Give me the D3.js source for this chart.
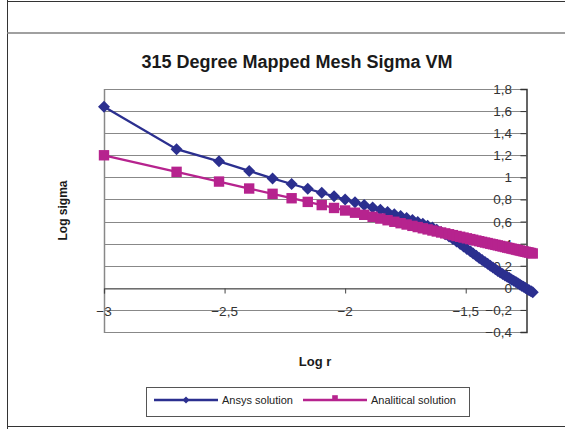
<!DOCTYPE html>
<html>
<head>
<meta charset="utf-8">
<script src="https://cdn.jsdelivr.net/npm/d3@7"></script>
<style>
  html, body { margin: 0; padding: 0; background: #fff; }
  svg { display: block; }
  text { font-family: "Liberation Sans", Arial, sans-serif; }
</style>
</head>
<body>
<svg id="chart" width="565" height="429"></svg>
<script>
// log r  (r = 0.001 ... 0.060)
const logR = [
  -3.000, -2.699, -2.523, -2.398, -2.301, -2.222, -2.155, -2.097, -2.046, -2.000,
  -1.959, -1.921, -1.886, -1.854, -1.824, -1.796, -1.770, -1.745, -1.721, -1.699,
  -1.678, -1.658, -1.638, -1.620, -1.602, -1.585, -1.569, -1.553, -1.538, -1.523,
  -1.509, -1.495, -1.481, -1.469, -1.456, -1.444, -1.432, -1.420, -1.409, -1.398,
  -1.387, -1.377, -1.367, -1.357, -1.347, -1.337, -1.328, -1.319, -1.310, -1.301,
  -1.292, -1.284, -1.276, -1.268, -1.260, -1.252, -1.244, -1.237, -1.229, -1.222
];

// FE result (log sigma)
const ansys = [
  1.640, 1.255, 1.145, 1.058, 0.990, 0.940, 0.897, 0.860, 0.828, 0.800,
  0.774, 0.750, 0.727, 0.706, 0.686, 0.667, 0.650, 0.632, 0.614, 0.597,
  0.580, 0.563, 0.545, 0.526, 0.506, 0.485, 0.464, 0.442, 0.419, 0.396,
  0.374, 0.352, 0.330, 0.310, 0.290, 0.271, 0.252, 0.234, 0.217, 0.200,
  0.184, 0.169, 0.153, 0.139, 0.126, 0.112, 0.100, 0.088, 0.076, 0.064,
  0.052, 0.041, 0.030, 0.019, 0.009, -0.002, -0.012, -0.021, -0.031, -0.040
];

// closed-form result (log sigma)
const analytical = [
  1.200, 1.050, 0.962, 0.899, 0.851, 0.811, 0.778, 0.749, 0.723, 0.700,
  0.680, 0.661, 0.643, 0.627, 0.612, 0.598, 0.585, 0.573, 0.561, 0.550,
  0.539, 0.529, 0.519, 0.510, 0.501, 0.493, 0.485, 0.477, 0.469, 0.462,
  0.455, 0.448, 0.441, 0.435, 0.428, 0.422, 0.416, 0.410, 0.405, 0.399,
  0.394, 0.389, 0.384, 0.379, 0.374, 0.369, 0.364, 0.360, 0.355, 0.351,
  0.346, 0.342, 0.338, 0.334, 0.330, 0.326, 0.322, 0.319, 0.315, 0.311
];

const xTicks = [-3, -2.5, -2, -1.5];
const yTicks = [-0.4, -0.2, 0, 0.2, 0.4, 0.6, 0.8, 1, 1.2, 1.4, 1.6, 1.8];

const seriesNames = ["Ansys solution", "Analitical solution"];
const seriesColors = ["#2b2f8f", "#b6238e"];

const svg = d3.select("#chart");

// outer frame
svg.append("line").attr("x1", 7.5).attr("x2", 7.5).attr("y1", 0).attr("y2", 429)
  .attr("stroke", "#333").attr("stroke-width", 1);
svg.append("line").attr("x1", 7).attr("x2", 565).attr("y1", 1.5).attr("y2", 1.5)
  .attr("stroke", "#333").attr("stroke-width", 1);
svg.append("line").attr("x1", 7).attr("x2", 565).attr("y1", 33).attr("y2", 33)
  .attr("stroke", "#808080").attr("stroke-width", 1.5);
svg.append("line").attr("x1", 7).attr("x2", 565).attr("y1", 426.5).attr("y2", 426.5)
  .attr("stroke", "#333").attr("stroke-width", 1.2);

// plot area
const plot = { left: 104, right: 526, top: 89, bottom: 332 };
const x = d3.scaleLinear().domain([-3, -1.25]).range([plot.left, plot.right]);
const y = d3.scaleLinear().domain([-0.4, 1.8]).range([plot.bottom, plot.top]);

// title
svg.append("text").attr("x", 297).attr("y", 68).attr("text-anchor", "middle")
  .attr("font-size", 18).attr("font-weight", "bold").attr("fill", "#1a1a1a")
  .text("315 Degree Mapped Mesh Sigma VM");

// horizontal gridlines
svg.append("g").selectAll("line").data(yTicks).join("line")
  .attr("x1", plot.left).attr("x2", plot.right)
  .attr("y1", d => Math.round(y(d)) + 0.5).attr("y2", d => Math.round(y(d)) + 0.5)
  .attr("stroke", "#888").attr("stroke-width", 1.2);

// plot area left border
svg.append("line").attr("x1", plot.left + 0.5).attr("x2", plot.left + 0.5)
  .attr("y1", plot.top).attr("y2", plot.bottom + 1)
  .attr("stroke", "#888").attr("stroke-width", 1.5);

// x axis (crosses at 0)
const xAxis = d3.axisBottom(x).tickValues(xTicks).tickSize(5).tickFormat("");
const gx = svg.append("g").attr("transform", `translate(0,${Math.round(y(0)) + 0.5})`).call(xAxis);
gx.select(".domain").attr("stroke", "#555").attr("stroke-width", 1.2);
gx.selectAll(".tick line").attr("stroke", "#444");

// x tick labels sit lower, on the -0.2 band
svg.append("g").selectAll("text").data(xTicks).join("text")
  .attr("x", d => x(d)).attr("y", y(-0.2) + 6)
  .attr("text-anchor", "middle").attr("font-size", 13.5).attr("fill", "#333")
  .text(d => d3.format("")(d).replace(".", ","));

// y axis on the right side, labels inside the plot
const yAxis = d3.axisLeft(y).tickValues(yTicks).tickSize(6).tickFormat("");
const gy = svg.append("g").attr("transform", `translate(${plot.right + 0.5},0)`).call(yAxis);
gy.select(".domain").attr("stroke", "#333").attr("stroke-width", 1.5);
gy.selectAll(".tick line").attr("stroke", "#333");

svg.append("g").selectAll("text").data(yTicks).join("text")
  .attr("x", plot.right - 14).attr("y", d => y(d) + 5)
  .attr("text-anchor", "end").attr("font-size", 13.5).attr("fill", "#333")
  .text(d => d3.format("")(+d.toFixed(1)).replace(".", ","));

// axis titles
svg.append("text").attr("x", (plot.left + plot.right) / 2).attr("y", 366)
  .attr("text-anchor", "middle").attr("font-size", 13).attr("font-weight", "bold")
  .attr("fill", "#1a1a1a").text("Log r");
svg.append("text")
  .attr("transform", `translate(67,${(plot.top + plot.bottom) / 2}) rotate(-90)`)
  .attr("text-anchor", "middle").attr("font-size", 12).attr("font-weight", "bold")
  .attr("fill", "#1a1a1a").text("Log sigma");

// series
const line = d3.line().x(d => x(d[0])).y(d => y(d[1]));
const diamond = s => `M0,${-s}L${s},0L0,${s}L${-s},0Z`;
const square = s => `M${-s},${-s}H${s}V${s}H${-s}Z`;

const series = [
  { pts: logR.map((v, i) => [v, ansys[i]]), color: seriesColors[0], marker: diamond(6) },
  { pts: logR.map((v, i) => [v, analytical[i]]), color: seriesColors[1], marker: square(5.2) }
];

series.forEach(s => {
  svg.append("path").datum(s.pts).attr("d", line)
    .attr("fill", "none").attr("stroke", s.color).attr("stroke-width", 2.3);
  svg.append("g").selectAll("path").data(s.pts).join("path")
    .attr("transform", d => `translate(${x(d[0])},${y(d[1])})`)
    .attr("d", s.marker).attr("fill", s.color);
});

// legend
const lg = svg.append("g");
lg.append("rect").attr("x", 146.5).attr("y", 387.5).attr("width", 323).attr("height", 29)
  .attr("fill", "#fff").attr("stroke", "#555").attr("stroke-width", 1);
const legendItems = [
  { x0: 154, x1: 218, tx: 222, marker: diamond(3.5), my: 400, color: seriesColors[0], name: seriesNames[0] },
  { x0: 303, x1: 367, tx: 371, marker: square(2.8), my: 398, color: seriesColors[1], name: seriesNames[1] }
];
legendItems.forEach(it => {
  lg.append("line").attr("x1", it.x0).attr("x2", it.x1).attr("y1", 400).attr("y2", 400)
    .attr("stroke", it.color).attr("stroke-width", 2.3);
  lg.append("path").attr("transform", `translate(${(it.x0 + it.x1) / 2},${it.my})`)
    .attr("d", it.marker).attr("fill", it.color);
  lg.append("text").attr("x", it.tx).attr("y", 404).attr("font-size", 11).attr("fill", "#222")
    .text(it.name);
});
</script>
</body>
</html>
